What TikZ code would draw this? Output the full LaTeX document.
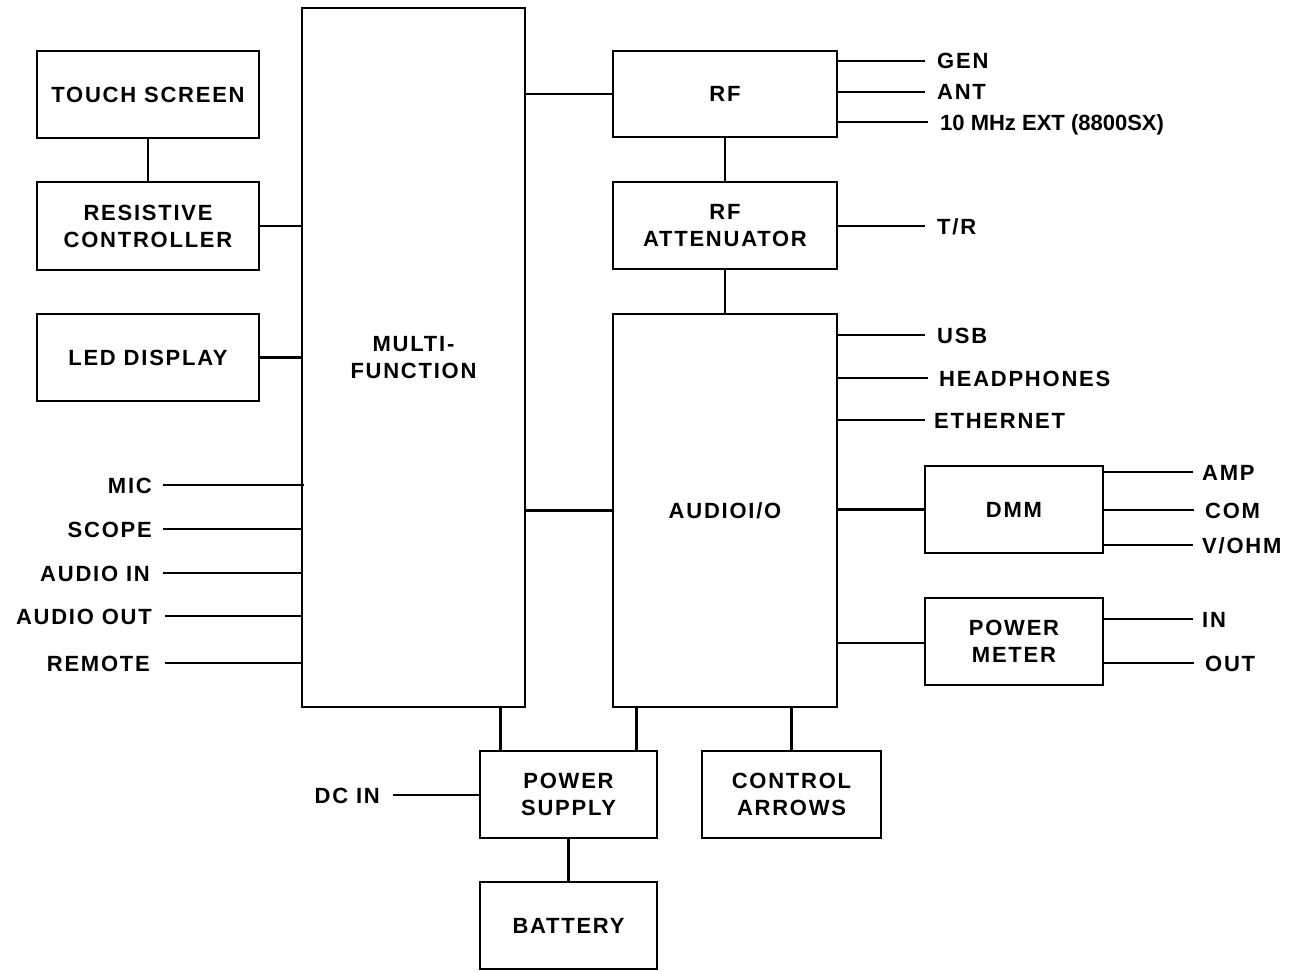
\documentclass[tikz,border=0pt]{standalone}
\usepackage{fontspec}
\setmainfont{Liberation Sans}[LetterSpace=8]
\usetikzlibrary{calc}
\begin{document}
\begin{tikzpicture}[x=1pt,y=-1pt,
  box/.style={draw, line width=2.8pt, rectangle, inner sep=0pt, align=center,
    font=\bfseries\fontsize{22}{27}\selectfont},
  lab/.style={inner sep=0pt, text height=16pt, text depth=0pt,
    font=\bfseries\fontsize{22}{27}\selectfont},
  wire/.style={line width=2.8pt}]
\useasboundingbox (0,0) rectangle (1297,971);
% boxes
\node[box, minimum width=222pt, minimum height=87pt] (ts) at (148,94.5) {TOUCH SCREEN};
\node[box, minimum width=222pt, minimum height=88pt] (rc) at (148,226) {RESISTIVE\\CONTROLLER};
\node[box, minimum width=222pt, minimum height=87pt] (led) at (148,357.5) {LED DISPLAY};
\node[box, minimum width=223pt, minimum height=699pt] (mf) at (413.5,357.5) {MULTI-\\FUNCTION};
\node[box, minimum width=224pt, minimum height=86pt] (rf) at (725,94) {RF};
\node[box, minimum width=224pt, minimum height=87pt] (att) at (725,225.5) {RF\\ATTENUATOR};
\node[box, minimum width=224pt, minimum height=393pt] (aud) at (725,510.5) {AUDIOI/O};
\node[box, minimum width=178pt, minimum height=87pt] (dmm) at (1014,509.5) {DMM};
\node[box, minimum width=178pt, minimum height=87pt] (pm) at (1014,641.5) {POWER\\METER};
\node[box, minimum width=177pt, minimum height=87pt] (ps) at (568.5,794.5) {POWER\\SUPPLY};
\node[box, minimum width=177pt, minimum height=87pt] (bat) at (568.5,925.5) {BATTERY};
\node[box, minimum width=179pt, minimum height=87pt] (ca) at (791.5,794.5) {CONTROL\\ARROWS};
% box connectors
\draw[wire] (ts.south) -- (rc.north);
\draw[wire] (rc.east) -- (rc.east -| mf.west);
\draw[wire] (led.east) -- (led.east -| mf.west);
\draw[wire] (mf.east |- rf.west) -- (rf.west);
\draw[wire] (rf.south) -- (att.north);
\draw[wire] (att.south) -- (aud.north);
\draw[wire] (mf.east |- aud.west) -- (aud.west);
\draw[wire] (aud.east |- dmm.west) -- (dmm.west);
\coordinate (pmin) at ([yshift=-1.5pt]pm.west);
\draw[wire] (aud.east |- pmin) -- (pmin);
\draw[wire] ([xshift=22pt]ps.north west) -- ([xshift=22pt]ps.north west |- mf.south);
\draw[wire] ([xshift=-22pt]ps.north east) -- ([xshift=-22pt]ps.north east |- aud.south);
\draw[wire] (ca.north) -- (ca.north |- aud.south);
\draw[wire] (ps.south) -- (bat.north);
% left labels
\node[lab, anchor=east] (mic) at (152,485) {MIC};
\node[lab, anchor=east] (scope) at (152,529) {SCOPE};
\node[lab, anchor=east] (ain) at (150,573) {AUDIO IN};
\node[lab, anchor=east] (aout) at (152,616) {AUDIO OUT};
\node[lab, anchor=east] (rem) at (150,663) {REMOTE};
\draw[wire] ([xshift=11pt]mic.east) -- ([xshift=3pt]mic.east -| mf.west);
\draw[wire] ([xshift=11pt]scope.east) -- (scope.east -| mf.west);
\draw[wire] ([xshift=13pt]ain.east) -- (ain.east -| mf.west);
\draw[wire] ([xshift=13pt]aout.east) -- (aout.east -| mf.west);
\draw[wire] ([xshift=15pt]rem.east) -- (rem.east -| mf.west);
\node[lab, anchor=east] (dcin) at (380,795) {DC IN};
\draw[wire] ([xshift=13pt]dcin.east) -- (dcin.east -| ps.west);
% RF labels
\node[lab, anchor=west] (gen) at (937,61) {GEN};
\node[lab, anchor=west] (ant) at (937,92) {ANT};
\node[lab, anchor=west, font=\bfseries\fontsize{22}{27}\selectfont\addfontfeature{LetterSpace=0}] (ext) at (940,122) {10 MHz EXT (8800SX)};
\node[lab, anchor=west] (tr) at (937,226) {T/R};
\draw[wire] ([xshift=-12pt]gen.west) -- (gen.west -| rf.east);
\draw[wire] ([xshift=-12pt]ant.west) -- (ant.west -| rf.east);
\draw[wire] ([xshift=-12pt]ext.west) -- (ext.west -| rf.east);
\draw[wire] ([xshift=-12pt]tr.west) -- (tr.west -| att.east);
% audio labels
\node[lab, anchor=west] (usb) at (937,335) {USB};
\node[lab, anchor=west] (hp) at (939,378) {HEADPHONES};
\node[lab, anchor=west] (eth) at (934,420) {ETHERNET};
\draw[wire] ([xshift=-12pt]usb.west) -- (usb.west -| aud.east);
\draw[wire] ([xshift=-11pt]hp.west) -- (hp.west -| aud.east);
\draw[wire] ([xshift=-9pt]eth.west) -- (eth.west -| aud.east);
% DMM labels
\node[lab, anchor=west] (amp) at (1202,472) {AMP};
\node[lab, anchor=west] (com) at (1205,510) {COM};
\node[lab, anchor=west] (vohm) at (1202,545) {V/OHM};
\draw[wire] ([xshift=-9pt]amp.west) -- (amp.west -| dmm.east);
\draw[wire] ([xshift=-11pt]com.west) -- (com.west -| dmm.east);
\draw[wire] ([xshift=-9pt]vohm.west) -- (vohm.west -| dmm.east);
% power meter labels
\node[lab, anchor=west] (pin) at (1202,619) {IN};
\node[lab, anchor=west] (pout) at (1205,663) {OUT};
\draw[wire] ([xshift=-9pt]pin.west) -- (pin.west -| pm.east);
\draw[wire] ([xshift=-11pt]pout.west) -- (pout.west -| pm.east);
\end{tikzpicture}
\end{document}
